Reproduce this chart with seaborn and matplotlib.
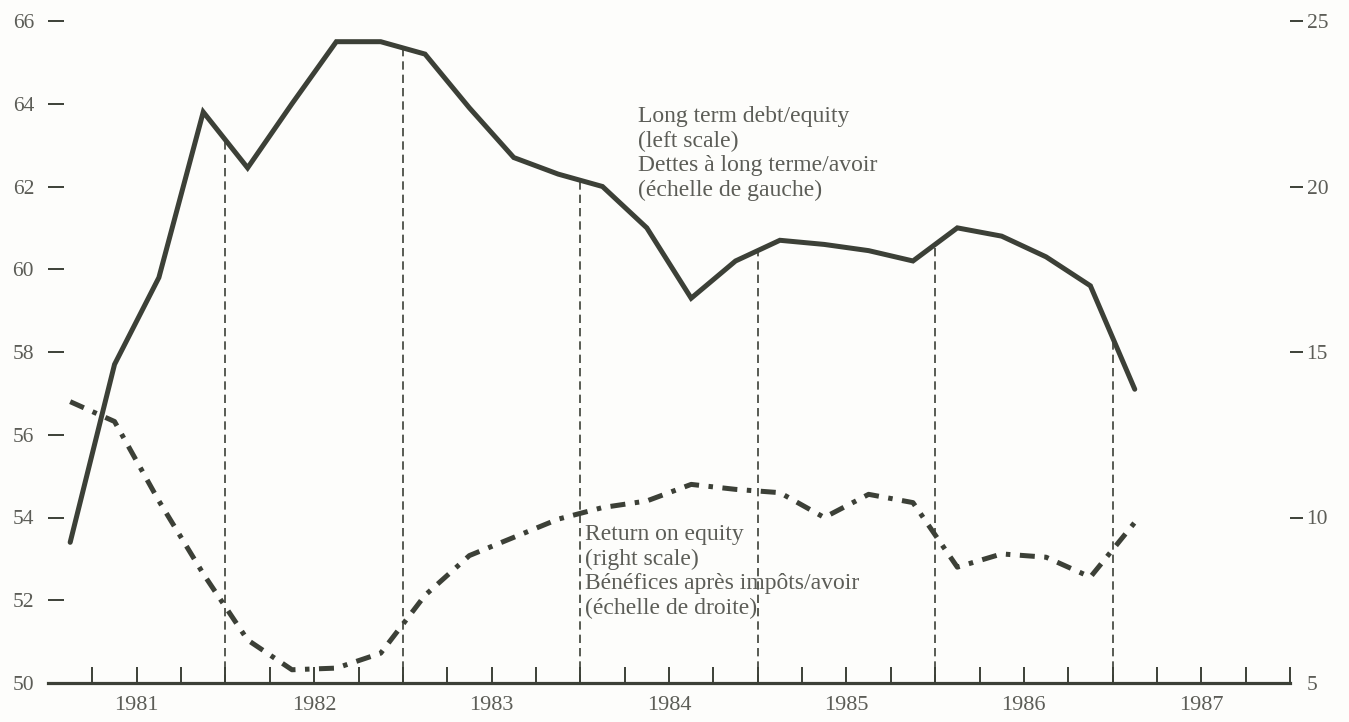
import matplotlib
matplotlib.use("Agg")
import matplotlib.pyplot as plt
import numpy as np
import pandas as pd
import seaborn as sns

sns.set_style("white")
plt.rcParams['font.family'] = ['Liberation Serif', 'DejaVu Serif']

# === data: quarterly, 1981Q1 - 1987Q1 ===
quarters = ["1981Q1", "1981Q2", "1981Q3", "1981Q4",
            "1982Q1", "1982Q2", "1982Q3", "1982Q4",
            "1983Q1", "1983Q2", "1983Q3", "1983Q4",
            "1984Q1", "1984Q2", "1984Q3", "1984Q4",
            "1985Q1", "1985Q2", "1985Q3", "1985Q4",
            "1986Q1", "1986Q2", "1986Q3", "1986Q4",
            "1987Q1"]
debt_equity = [53.4, 57.7, 59.8, 63.8,
               62.45, 64.0, 65.5, 65.5,
               65.2, 63.9, 62.7, 62.3,
               62.0, 61.0, 59.3, 60.2,
               60.7, 60.6, 60.45, 60.2,
               61.0, 60.8, 60.3, 59.6,
               57.1]
roe = [13.5, 12.9, 10.5, 8.3,
       6.3, 5.4, 5.45, 5.9,
       7.65, 8.85, 9.4, 9.95,
       10.3, 10.5, 11.0, 10.85,
       10.75, 10.0, 10.7, 10.45,
       8.5, 8.9, 8.8, 8.2,
       9.85]
years = [1981, 1982, 1983, 1984, 1985, 1986, 1987]
left_ticks = [50, 52, 54, 56, 58, 60, 62, 64, 66]
right_ticks = [5, 10, 15, 20, 25]

label_debt = "Long term debt/equity\n(left scale)\nDettes à long terme/avoir\n(échelle de gauche)"
label_roe = "Return on equity\n(right scale)\nBénéfices après impôts/avoir\n(échelle de droite)"

# quarter -> position on a continuous year axis (mid-quarter)
df = pd.DataFrame({"quarter": quarters, "debt": debt_equity, "roe": roe})
df["t"] = df["quarter"].str[:4].astype(int) + (df["quarter"].str[-1].astype(int) - 0.5) / 4

line_col = "#3c4037"
text_col = "#5c5d57"

fig = plt.figure(figsize=(13.49, 7.22), dpi=100)
fig.patch.set_facecolor("#fdfdfb")
ax = fig.add_axes([48 / 1349, 1 - 683 / 722, (1290 - 48) / 1349, (683 - 21) / 722])
ax.set_facecolor("none")
ax2 = ax.twinx()

sns.lineplot(data=df, x="t", y="debt", ax=ax, color=line_col, linewidth=3.6,
             solid_joinstyle="miter", zorder=3)
sns.lineplot(data=df, x="t", y="roe", ax=ax2, color=line_col, linewidth=3.6,
             linestyle=(0, (3, 1.9, 0.9, 1.9)), zorder=3)

# dashed year markers, from the axis up to the debt/equity curve
for yr in years[1:]:
    top = np.interp(yr, df["t"], df["debt"])
    ax.vlines(yr, 50, top, colors=line_col, linewidth=1.2,
              linestyles=(0, (5, 3)), zorder=2)

ax.set_xlim(1981.0, 1988.0)
ax.set_ylim(50, 66)
ax2.set_ylim(5, 25)

# x ticks every quarter, year label at mid-year
qticks = np.arange(1981.25, 1988.01, 0.25)
qlabels = []
for q in qticks:
    lab = ""
    for yr in years:
        if abs(q - (yr + 0.5)) < 1e-6:
            lab = str(yr)
    qlabels.append(lab)
ax.set_xticks(qticks)
ax.set_xticklabels(qlabels)

ax.set_yticks(left_ticks)
ax.set_yticklabels([str(v) for v in left_ticks])
ax2.set_yticks(right_ticks)
ax2.set_yticklabels([str(v) for v in right_ticks])

ax.set_xlabel("")
ax.set_ylabel("")
ax2.set_ylabel("")

for a in (ax, ax2):
    for s in ("top", "left", "right", "bottom"):
        a.spines[s].set_visible(False)
ax.spines["bottom"].set_visible(True)
ax.spines["bottom"].set_linewidth(2.3)
ax.spines["bottom"].set_color(line_col)

ax.tick_params(axis="x", bottom=True, direction="in", length=11.5, width=1.4,
               color=line_col, pad=9, labelsize=16, labelcolor=text_col)
ax.tick_params(axis="y", left=True, direction="in", length=11.5, width=1.4,
               color=line_col, pad=10, labelsize=15.5, labelcolor=text_col)
ax2.tick_params(axis="y", right=True, direction="out", length=9, width=1.4,
                color=line_col, pad=3, labelsize=15.5, labelcolor=text_col)
ax.yaxis.get_major_ticks()[0].tick1line.set_visible(False)
ax2.yaxis.get_major_ticks()[0].tick2line.set_visible(False)

fig.text(638 / 1349, 1 - 106 / 722, label_debt, fontsize=17, color=text_col,
         va="top", ha="left", linespacing=1.22)
fig.text(585 / 1349, 1 - 524 / 722, label_roe, fontsize=17, color=text_col,
         va="top", ha="left", linespacing=1.22)

fig.savefig("out.png", dpi=100, facecolor=fig.get_facecolor())
